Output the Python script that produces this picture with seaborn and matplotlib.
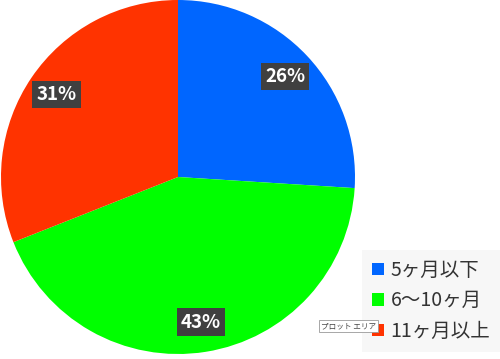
import matplotlib
matplotlib.use("Agg")
import matplotlib.pyplot as plt
import seaborn as sns
from matplotlib.patches import Patch

sns.set_theme(style="white")
plt.rcParams['font.family'] = ['Noto Sans CJK JP', 'DejaVu Sans']

categories = ["5ヶ月以下", "6〜10ヶ月", "11ヶ月以上"]
values = [26, 43, 31]
colors = ["#0066FF", "#00FF00", "#FF3300"]

fig = plt.figure(figsize=(5.0, 3.59), dpi=100)
W, H = 500, 359
cx, cy, r = 178, 177, 177
ax = fig.add_axes([(cx - r) / W, (H - cy - r) / H, 2 * r / W, 2 * r / H])

wedges, texts, autotexts = ax.pie(
    values, colors=colors, startangle=90, counterclock=False,
    autopct=lambda p: f"{p:.0f}%", pctdistance=0.83,
    wedgeprops=dict(linewidth=0),
    textprops=dict(color="white", fontsize=13.5, fontweight="bold"),
)
for t in autotexts:
    t.set_bbox(dict(boxstyle="square,pad=0.22", fc="#404040", ec="none"))
ax.set_aspect("equal")
ax.set_xlim(-1.0, 1.0)
ax.set_ylim(-1.0, 1.0)
ax.axis("off")

handles = [Patch(facecolor=c, edgecolor="none") for c in colors]
leg = fig.legend(handles, categories, loc="lower right",
                 bbox_to_anchor=(1.0, 0.02), borderaxespad=0, fontsize=14,
                 frameon=True, fancybox=False, handlelength=0.6,
                 handleheight=0.6, handletextpad=0.35, labelspacing=0.5,
                 borderpad=0.5)
leg.get_frame().set_facecolor("#F5F5F5")
leg.get_frame().set_edgecolor("none")
leg.set_zorder(5)
for t in leg.get_texts():
    t.set_color("#333333")

tip = fig.text(321 / W, 1 - 326 / H, "プロット エリア", fontsize=5.5, color="#444444",
               va="center", ha="left", zorder=10,
               bbox=dict(boxstyle="square,pad=0.3", fc="white", ec="#999999", lw=0.6))

fig.savefig("out.png", dpi=100)
